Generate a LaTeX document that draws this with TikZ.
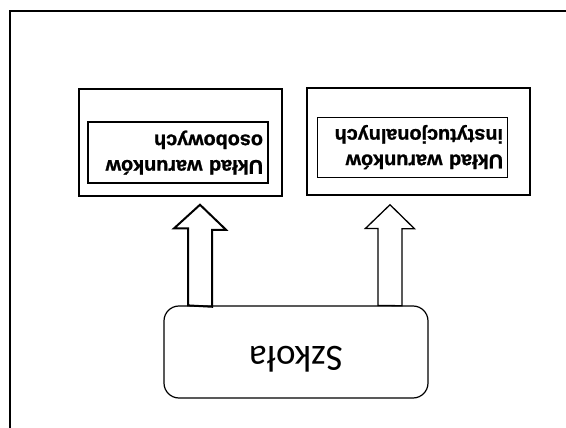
\documentclass[tikz,border=0pt]{standalone}
\usepackage{fontspec}
\usepackage{graphicx}
\setmainfont{Liberation Sans}
\newfontfamily\lblfont{Liberation Sans}[BoldFeatures={FakeBold=1.2}]
\newfontfamily\szkfont{Carlito}
\usetikzlibrary{calc}
\begin{document}
\begin{tikzpicture}[x=1pt,y=-1pt,
  frameline/.style={line width=2.2pt},
  outerbox/.style={draw, line width=1.5pt, minimum width=#1, minimum height=107pt, inner sep=0pt},
  labelfont/.style={font=\lblfont\bfseries\fontsize{19.8}{25.5}\selectfont},
  innerthick/.style={draw, line width=2pt, labelfont, minimum height=61pt, inner ysep=0pt, inner xsep=5pt, align=right},
  innerthin/.style={draw, line width=0.9pt, labelfont, minimum height=60pt, inner ysep=0pt, inner xsep=4pt, align=right},
  schoolbox/.style={draw, line width=1.2pt, rounded corners=15pt, minimum width=264pt, minimum height=92pt, inner sep=0pt, font=\szkfont\fontsize{37}{42}\selectfont},
  blockthick/.style={draw, line width=2pt, line join=miter},
  blockthin/.style={draw, line width=1.3pt, line join=miter}
]
\useasboundingbox (0,0) rectangle (566,428);
% frame
\coordinate (fb) at (10,428);
\coordinate (fc) at (10,11);
\coordinate (fr) at (566,11);
\draw[frameline] (fb) -- (fc) -- (fr);
% boxes
\node[outerbox=203pt] (lo) at (180.5,142.5) {};
\node[innerthick, text width=170pt] (li) at (178,152.5)
  {\rotatebox{180}{\begin{tabular}{@{}l@{}}Układ warunków\\osobowych\end{tabular}}};
\node[outerbox=223pt] (ro) at (418.5,141.5) {};
\node[innerthin, text width=182pt] (ri) at (412,147)
  {\rotatebox{180}{\begin{tabular}{@{}l@{}}Układ warunków\\instytucjonalnych\end{tabular}}};
\node[schoolbox] (szk) at (296,352) {\raisebox{5pt}[0pt][0pt]{\rotatebox{180}{Szkoła}}};
% block arrows
\coordinate (a1) at ($(szk.north)+(-96,0)$);
\coordinate (t1) at ($(a1 |- lo.south)+(0,8)$);
\draw[blockthick] (a1) ++(-12,0) -- ++(0,-77) -- ++(-14,0) -- (t1) -- ++(26,25) -- ++(-14,0) -- ++(0,77) -- cycle;
\coordinate (a2) at ($(szk.north)+(94,0)$);
\coordinate (t2) at ($(a2 |- ro.south)+(0,9)$);
\draw[blockthin] (a2) ++(-12,0) -- ++(0,-77) -- ++(-12.5,0) -- (t2) -- ++(24.5,24) -- ++(-12.5,0) -- ++(0,77) -- cycle;
\end{tikzpicture}
\end{document}
